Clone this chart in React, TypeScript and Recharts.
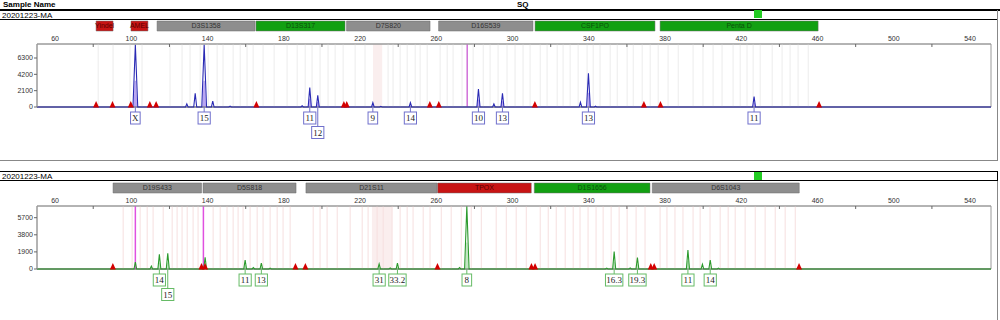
import React from 'react';
import { ComposedChart, Line, Area, Scatter, XAxis, YAxis, ReferenceLine, ReferenceArea } from 'recharts';

document.body.style.margin = '0';

// shared size axis (bp)
const xDomain = [50.5, 551];
const xTicks = [60, 80, 100, 120, 140, 160, 180, 200, 220, 240, 260, 280, 300, 320, 340, 360, 380, 400, 420, 440, 460, 480, 500, 520, 540];
const xLabelled = [60, 100, 140, 180, 220, 260, 300, 340, 380, 420, 460, 500, 540];

// ---- blue dye panel ----
const blueMax = 8100;
const blueYTicks = [0, 2100, 4200, 6300];
const blueLoci = ['Yindel', 'AMEL', 'D3S1358', 'D13S317', 'D7S820', 'D16S539', 'CSF1PO', 'Penta D'];
const blueLociStart = [81.5, 99.8, 113.5, 165.4, 212.9, 261.2, 311.8, 377.4];
const blueLociEnd = [90.4, 108.7, 164.9, 212.1, 256.7, 310.7, 374.7, 460.3];
const blueLociKind = ['red', 'red', 'gray', 'green', 'gray', 'gray', 'green', 'green'];
const bluePeakBp = [102.1, 129.1, 133.5, 138.2, 142.7, 151.8, 189.6, 193.6, 197.8, 226.7, 230.9, 246.4, 282.1, 290.2, 294.7, 335.6, 339.8, 343.5, 426.7];
const bluePeakHeight = [8000, 400, 1760, 8000, 770, 120, 150, 2490, 1500, 550, 80, 550, 2320, 390, 1760, 600, 4340, 100, 1330];
const blueAlleleBp = [102.1, 138.2, 193.6, 197.8, 226.7, 246.4, 282.1, 294.7, 339.8, 426.7];
const blueAlleleText = ['X', '15', '11', '12', '9', '14', '10', '13', '13', '11'];
const blueAlleleRow = [0, 0, 0, 1, 0, 0, 0, 0, 0, 0];
const blueMarkers = [81.5, 90.1, 99.7, 109.7, 113.0, 165.6, 211.5, 213.0, 256.6, 261.3, 311.7, 368.9, 377.6, 460.8];
const blueBins = [82.6, 90.4, 99.3, 105.6, 120.3, 126.6, 130.8, 136.1, 140.3, 145, 148.1, 153.4, 157.1, 160.7, 163.9,
  169.1, 174.9, 181.7, 187, 191.2, 194.8, 199, 203.2, 206.9, 211.1, 217.4, 222.6, 234.7, 237.3, 241, 244.7, 248.9,
  251.5, 255.2, 262, 265.7, 268.8, 273.5, 279.3, 284.6, 288.2, 292.4, 297.1, 301.3, 305.5, 309.2, 314.5, 318.1,
  323.4, 326.5, 330.2, 334.4, 339.1, 342.3, 345.9, 351.2, 354.9, 360.1, 363.3, 368, 372.2, 376.4, 381.6, 386.9,
  394.7, 399.9, 405.2, 409.9, 415.7, 419.4, 423, 426.2, 429.9, 436.2, 441.4, 445.6, 449.8, 455.1];
const blueShade = [226.8, 231.6];
const blueSpike = [276.2];

// ---- green dye panel ----
const greenMax = 7000;
const greenYTicks = [0, 1900, 3800, 5700];
const greenLoci = ['D19S433', 'D5S818', 'D21S11', 'TPOX', 'D1S1656', 'D6S1043'];
const greenLociStart = [90.4, 137.6, 191.6, 260.7, 311.4, 373.3];
const greenLociEnd = [136.8, 186.4, 260.4, 309.8, 372.1, 450.4];
const greenLociKind = ['gray', 'gray', 'gray', 'red', 'green', 'gray'];
const greenPeakBp = [102.1, 110.5, 114.7, 119.1, 138.7, 159.7, 164.0, 168.2, 172.8, 230.0, 235.8, 239.6, 272.2, 276.0, 349.4, 353.3, 361.7, 365.5, 392.0, 399.6, 403.7, 408.0];
const greenPeakHeight = [780, 330, 1640, 1750, 1300, 1000, 150, 640, 100, 560, 120, 640, 150, 7000, 100, 1930, 120, 1270, 2120, 530, 1000, 100];
const greenAlleleBp = [114.7, 119.1, 159.7, 168.2, 230.0, 239.6, 276.0, 353.3, 365.5, 392.0, 403.7];
const greenAlleleText = ['14', '15', '11', '13', '31', '33.2', '8', '16.3', '19.3', '11', '14'];
const greenAlleleRow = [0, 1, 0, 0, 0, 0, 0, 0, 0, 0, 0];
const greenMarkers = [90.3, 136.8, 138.7, 186.1, 191.3, 260.6, 309.9, 311.8, 372.5, 374.3, 450.3];
const greenBins = [95.7, 100.4, 104.6, 108.3, 111.4, 116.7, 121.4, 124, 126.6, 129.3, 132.4, 135, 142.9, 146.6, 150.2,
  153.4, 156, 158.6, 162.3, 166, 169.1, 172.8, 176.5, 179.6, 183.3, 195.4, 199, 202.7, 208, 214.8, 221.1, 224.2,
  228.9, 232.1, 236.8, 241, 244.7, 247.8, 253.1, 256.7, 262.6, 267.8, 273.1, 278.3, 283.6, 291.4, 296.7, 301.9,
  307.2, 314.5, 318.7, 322.9, 327.6, 331.8, 335.4, 339.6, 343.8, 347.5, 351.7, 355.9, 360.1, 364.8, 369.5, 377.4,
  381, 385.2, 389.4, 394.7, 398.4, 403.6, 408.9, 413.1, 416.8, 422, 427.3, 432.5, 437.8, 443, 448.3];
const greenShade = [226.2, 236.7];
const greenSpike = [102.1, 137.8];

const lociColors: Record<string, { fill: string; text: string }> = {
  gray: { fill: '#8e8e8e', text: '#333333' },
  green: { fill: '#12a012', text: '#0b500b' },
  red: { fill: '#c81414', text: '#5a0000' },
};

// turn peak tops into a simple trace
function traceFrom(bps: number[], hs: number[]) {
  const pts: { bp: number; v: number }[] = [{ bp: xDomain[0], v: 0 }];
  bps.forEach((b, i) => {
    const w = 0.65 + (hs[i] / 8000) * 0.6;
    pts.push({ bp: b - w, v: 0 }, { bp: b, v: hs[i] }, { bp: b + w, v: 0 });
  });
  pts.push({ bp: xDomain[1], v: 0 });
  return pts;
}

function fillFrom(bps: number[], allBp: number[], allH: number[]) {
  const pts: { bp: number; v: number }[] = [];
  bps.forEach((b) => {
    const h = allH[allBp.indexOf(b)] * 0.42;
    pts.push({ bp: b - 0.95, v: 0 }, { bp: b - 0.35, v: h }, { bp: b + 0.35, v: h }, { bp: b + 0.95, v: 0 });
  });
  return pts;
}

const XTick = (props: any) => {
  const { x, y, payload } = props;
  if (xLabelled.includes(payload.value)) {
    return (
      <text x={x} y={y} textAnchor="middle" fontSize={7} fill="#333">{payload.value}</text>
    );
  }
  return <line x1={x} x2={x} y1={y + 3} y2={y + 6} stroke="#666" />;
};

const Marker = (props: any) => {
  const { cx, cy } = props;
  return <polygon points={`${cx - 3},${cy + 0.5} ${cx},${cy - 6} ${cx + 3},${cy + 0.5}`} fill="#d40000" />;
};

function makeAllele(stroke: string) {
  return (props: any) => {
    const { cx, cy, payload } = props;
    const top = cy + 5 + payload.row * 14.5;
    const w = 7 + payload.label.length * 2.6;
    return (
      <g>
        <line x1={cx} x2={cx} y1={cy} y2={top} stroke={stroke} />
        <rect x={cx - w / 2} y={top} width={w} height={12} fill="#fff" stroke={stroke} />
        <text x={cx} y={top + 9.3} textAnchor="middle" fontSize={9} fontFamily="'Liberation Serif', serif" fill="#222">
          {payload.label}
        </text>
      </g>
    );
  };
}

type PanelProps = {
  top: number;
  max: number;
  yTicks: number[];
  loci: string[];
  lociStart: number[];
  lociEnd: number[];
  lociKind: string[];
  peakBp: number[];
  peakHeight: number[];
  alleleBp: number[];
  alleleText: string[];
  alleleRow: number[];
  markers: number[];
  bins: number[];
  binColor: string;
  shade: number[];
  spikes: number[];
  spikeColor: string;
  traceColor: string;
  fillColor: string;
  boxColor: string;
};

function Panel(p: PanelProps) {
  const trace = traceFrom(p.peakBp, p.peakHeight);
  const fill = fillFrom(p.alleleBp, p.peakBp, p.peakHeight);
  const alleles = p.alleleBp.map((b, i) => ({ bp: b, v: 0, label: p.alleleText[i], row: p.alleleRow[i] }));
  const marks = p.markers.map((b) => ({ bp: b, v: 0 }));
  const barLo = (p.max * 76) / 63;
  const barHi = (p.max * 86) / 63;
  return (
    <div style={{ position: 'absolute', left: 0, top: p.top }}>
      <ComposedChart width={1000} height={160} margin={{ top: 30, right: 9, bottom: 53, left: 0 }}>
        <XAxis
          dataKey="bp"
          type="number"
          orientation="top"
          domain={xDomain}
          ticks={xTicks}
          height={14}
          tickSize={0}
          tickMargin={3}
          tick={<XTick />}
          axisLine={{ stroke: '#9a9a9a' }}
          interval={0}
        />
        <YAxis
          type="number"
          domain={[0, p.max]}
          ticks={p.yTicks}
          width={37}
          tickSize={3}
          tickMargin={1}
          tick={{ fontSize: 7, fill: '#333' }}
          axisLine={{ stroke: '#9a9a9a' }}
          tickLine={{ stroke: '#666' }}
        />
        <ReferenceArea x1={p.shade[0]} x2={p.shade[1]} y1={0} y2={p.max} fill="#faeeee" fillOpacity={1} stroke="none" />
        {p.bins.map((b, i) => (
          <ReferenceLine key={'b' + i} x={b} stroke={p.binColor} strokeWidth={1} />
        ))}
        <ReferenceArea x1={xDomain[0]} x2={xDomain[1]} y1={0} y2={p.max} fill="none" stroke="#9a9a9a" />
        {p.spikes.map((s, i) => (
          <ReferenceLine key={'s' + i} x={s} stroke={p.spikeColor} strokeWidth={1.5} />
        ))}
        {p.loci.map((name, i) => (
          <ReferenceArea
            key={'l' + i}
            x1={p.lociStart[i]}
            x2={p.lociEnd[i]}
            y1={barLo}
            y2={barHi}
            ifOverflow="visible"
            fill={lociColors[p.lociKind[i]].fill}
            fillOpacity={1}
            stroke="#6a6a6a"
            strokeWidth={0.5}
            label={{ value: name, position: 'center', fill: lociColors[p.lociKind[i]].text, fontSize: 7 }}
          />
        ))}
        <ReferenceLine y={0} stroke="#666" />
        <Area data={fill} dataKey="v" type="linear" stroke="none" fill={p.fillColor} fillOpacity={1} isAnimationActive={false} />
        <Line data={trace} dataKey="v" type="linear" stroke={p.traceColor} strokeWidth={1.1} dot={false} isAnimationActive={false} />
        <Scatter data={marks} dataKey="v" shape={<Marker />} isAnimationActive={false} />
        <Scatter data={alleles} dataKey="v" shape={makeAllele(p.boxColor)} isAnimationActive={false} />
      </ComposedChart>
    </div>
  );
}

const abs = (s: React.CSSProperties): React.CSSProperties => ({ position: 'absolute', ...s });

export default function App() {
  return (
    <div style={{ position: 'relative', width: 1000, height: 320, overflow: 'hidden', background: '#fff', fontFamily: "'Liberation Sans', Arial, sans-serif" }}>
      <Panel
        top={0}
        max={blueMax}
        yTicks={blueYTicks}
        loci={blueLoci}
        lociStart={blueLociStart}
        lociEnd={blueLociEnd}
        lociKind={blueLociKind}
        peakBp={bluePeakBp}
        peakHeight={bluePeakHeight}
        alleleBp={blueAlleleBp}
        alleleText={blueAlleleText}
        alleleRow={blueAlleleRow}
        markers={blueMarkers}
        bins={blueBins}
        binColor="#ececec"
        shade={blueShade}
        spikes={blueSpike}
        spikeColor="#d070d8"
        traceColor="#2a2ab4"
        fillColor="#b9a4f2"
        boxColor="#7070cc"
      />
      <Panel
        top={162}
        max={greenMax}
        yTicks={greenYTicks}
        loci={greenLoci}
        lociStart={greenLociStart}
        lociEnd={greenLociEnd}
        lociKind={greenLociKind}
        peakBp={greenPeakBp}
        peakHeight={greenPeakHeight}
        alleleBp={greenAlleleBp}
        alleleText={greenAlleleText}
        alleleRow={greenAlleleRow}
        markers={greenMarkers}
        bins={greenBins}
        binColor="#f6dfdf"
        shade={greenShade}
        spikes={greenSpike}
        spikeColor="#e050e0"
        traceColor="#2c9a2c"
        fillColor="#c4e6c4"
        boxColor="#66bb66"
      />

      {/* header rows */}
      <div style={abs({ left: 3, top: 0, fontSize: 8, fontWeight: 'bold', lineHeight: '9px' })}>Sample Name</div>
      <div style={abs({ left: 517, top: 0, fontSize: 8, fontWeight: 'bold', lineHeight: '9px' })}>SQ</div>
      <div style={abs({ left: 0, top: 9, width: 1000, height: 2, background: '#000' })} />
      <div style={abs({ left: 2, top: 11, fontSize: 8, lineHeight: '9px' })}>20201223-MA</div>
      <div style={abs({ left: 0, top: 19, width: 997, height: 1, background: '#000' })} />
      <div style={abs({ left: 754, top: 10, width: 8, height: 8, background: '#22cc22' })} />
      <div style={abs({ left: 997, top: 10, width: 1, height: 150, background: '#888' })} />
      <div style={abs({ left: 0, top: 160, width: 998, height: 1, background: '#888' })} />

      <div style={abs({ left: 0, top: 171, width: 998, height: 1, background: '#000' })} />
      <div style={abs({ left: 2, top: 172, fontSize: 8, lineHeight: '9px' })}>20201223-MA</div>
      <div style={abs({ left: 0, top: 180, width: 998, height: 1, background: '#000' })} />
      <div style={abs({ left: 754, top: 172, width: 8, height: 8, background: '#22cc22' })} />
      <div style={abs({ left: 997, top: 171, width: 1, height: 10, background: '#000' })} />
      <div style={abs({ left: 997, top: 181, width: 1, height: 139, background: '#888' })} />
    </div>
  );
}
